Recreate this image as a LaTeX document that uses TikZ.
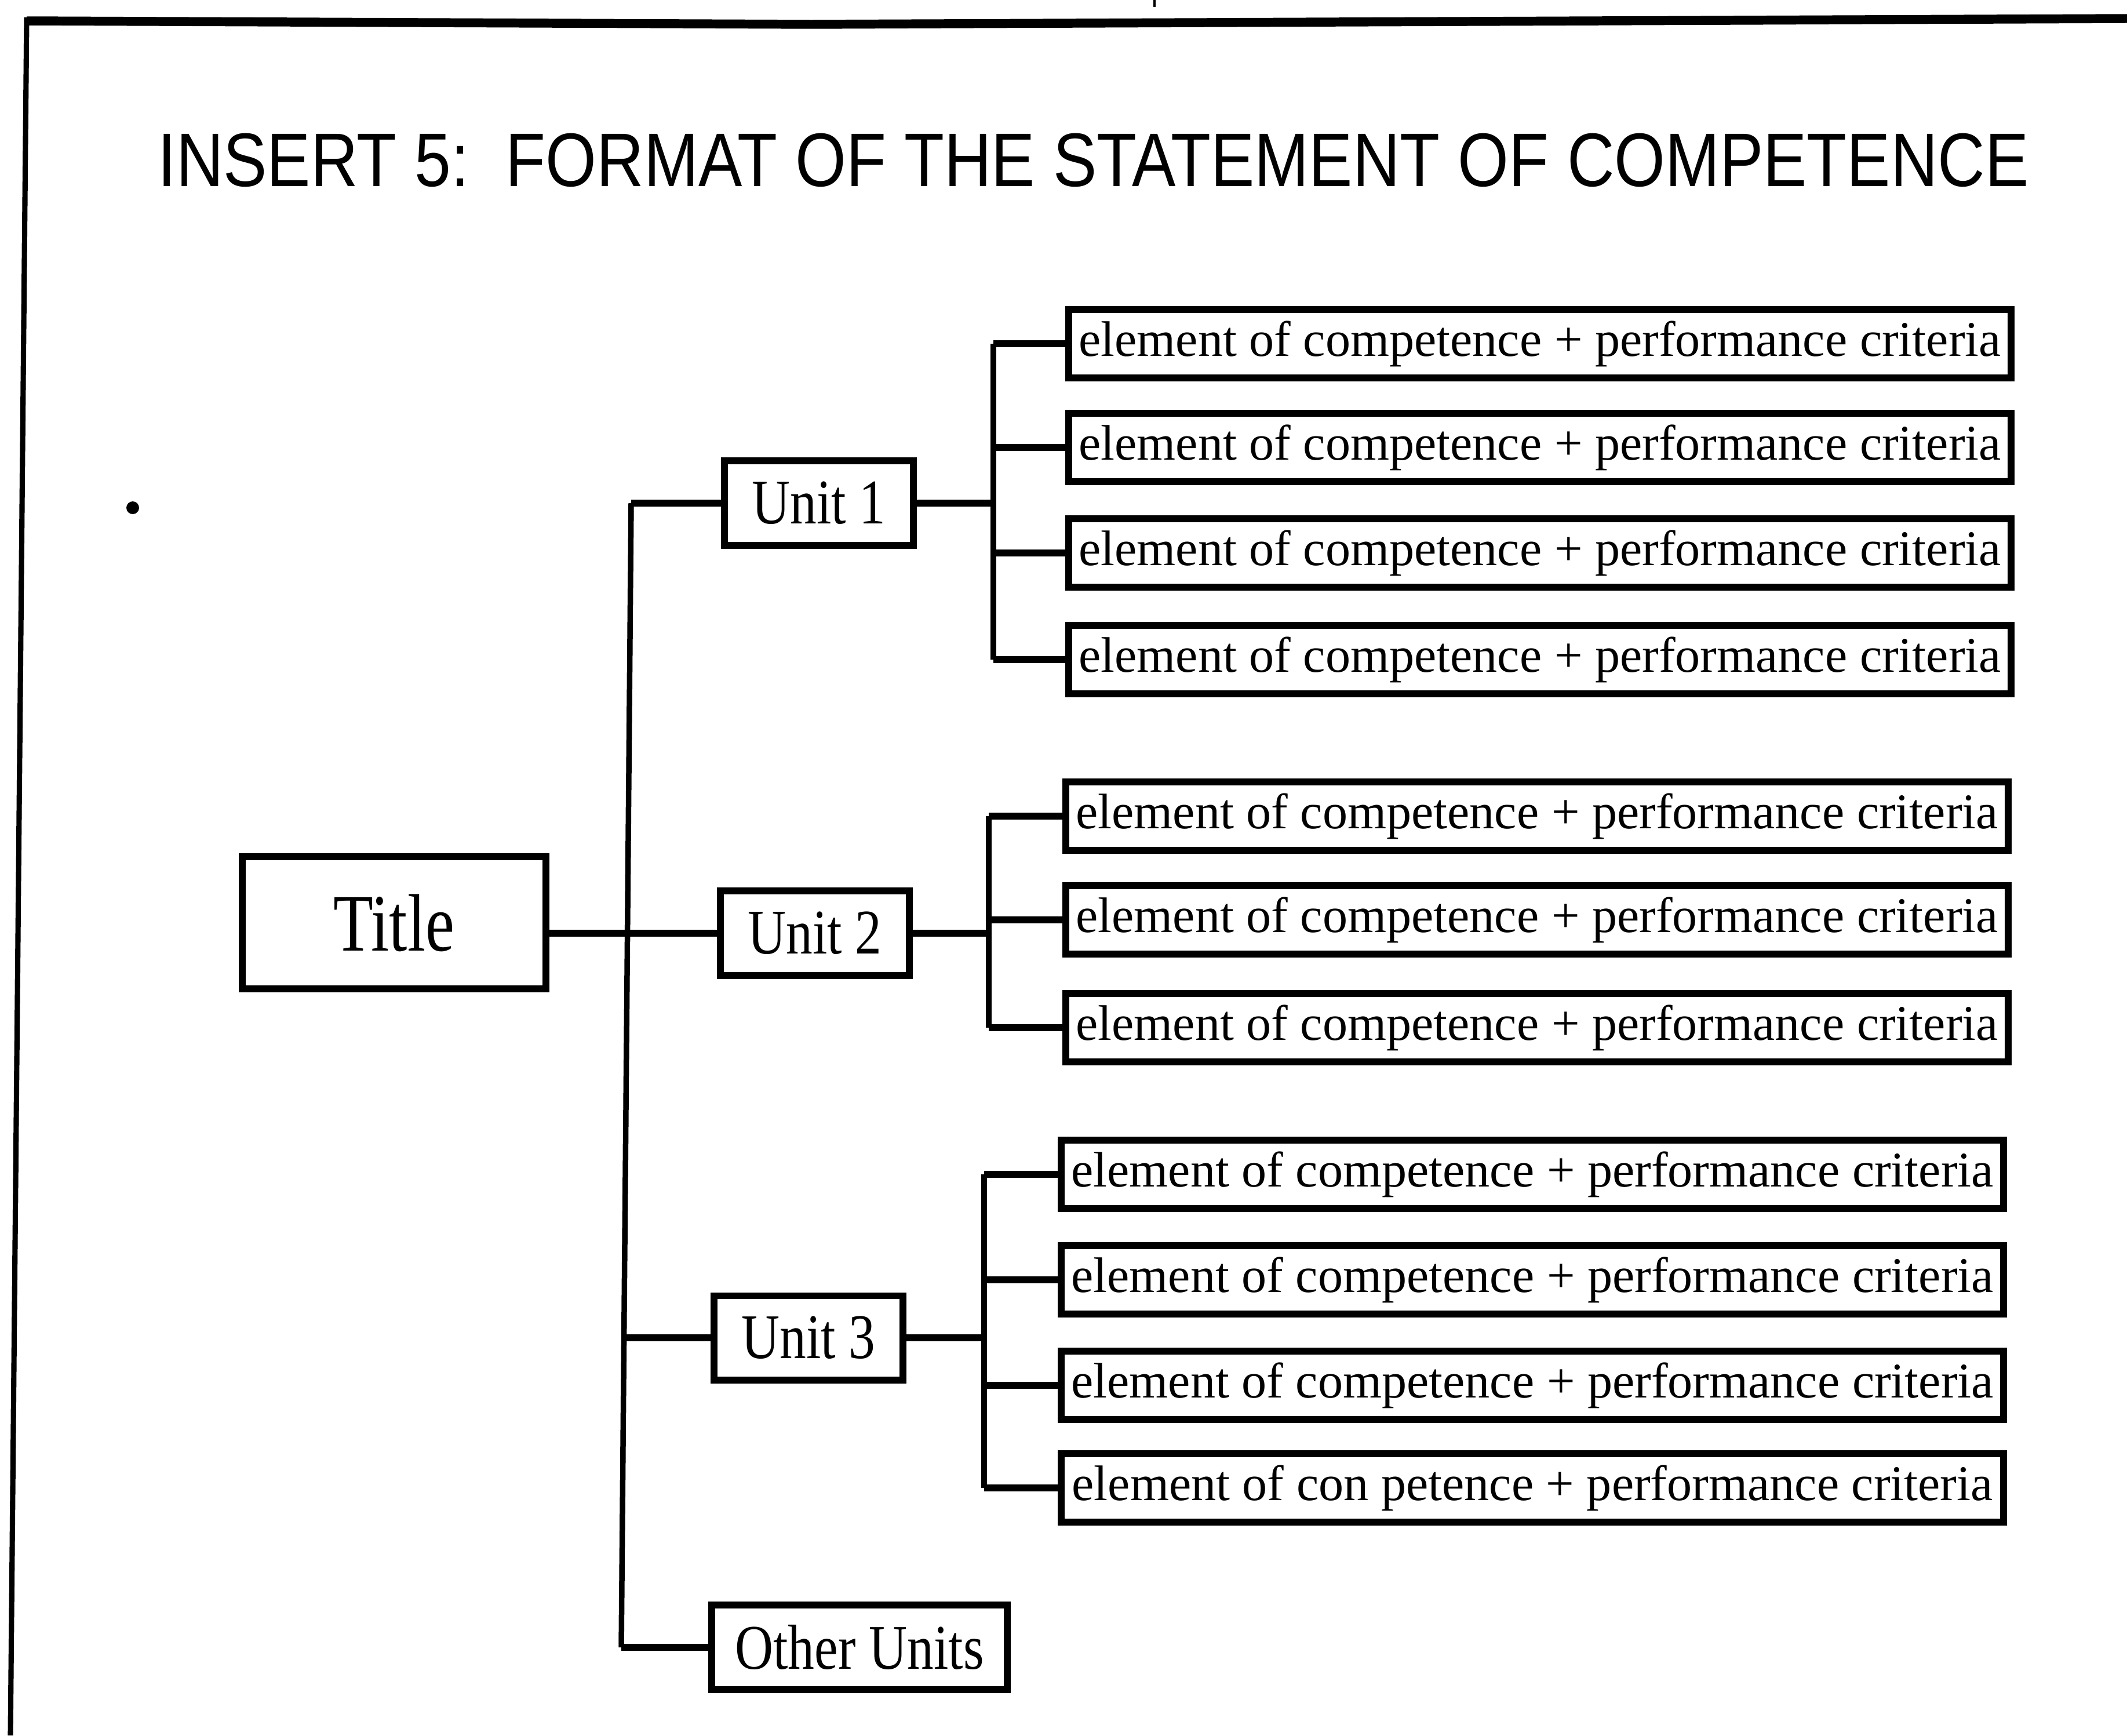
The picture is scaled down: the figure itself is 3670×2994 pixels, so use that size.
\documentclass[tikz,border=0pt]{standalone}
\usepackage{fontspec}
\usepackage{graphicx}
\setmainfont{Liberation Serif}
\newfontfamily\headfont{Liberation Sans}
\newcommand\elfont{\fontsize{24.5}{29}\selectfont}
\newcommand\unitfont{\fontsize{26}{30}\selectfont}
\newcommand\titlefont{\fontsize{32}{36}\selectfont}
\newcommand\headingfont{\headfont\fontsize{32.1}{36}\selectfont}
\newcommand\stretchy[2]{\scalebox{1}[#1]{#2}}
\tikzset{
  boxbase/.style={draw, line width=3.4pt, inner sep=0pt, align=center},
  elbox/.style={boxbase, minimum width=16.25cm, minimum height=1.18cm, font=\elfont},
  unitbox/.style={boxbase, minimum width=3.26cm, minimum height=1.45cm, font=\unitfont},
  otherbox/.style={boxbase, minimum width=5.09cm, minimum height=1.46cm, font=\unitfont},
  titlebox/.style={boxbase, minimum width=5.24cm, minimum height=2.28cm, font=\titlefont},
  conn/.style={line width=3.2pt},
  trunkline/.style={line width=2.7pt},
}
\begin{document}
\begin{tikzpicture}[x=0.01cm,y=-0.01cm]
\useasboundingbox (0,0) rectangle (3670,2994);
\fill[white] (0,0) rectangle (3670,2994);
% frame
\draw[line width=4.4pt] (46,36) -- (1400,42) -- (3670,32);
\draw[line width=2.6pt] (46,30) -- (18,2994);
\draw[line width=1.4pt] (1992,0) -- (1992,12);
\fill (229,876) circle (11);
% heading
\node[anchor=base west, inner sep=0pt, font=\headingfont] (head) at (272,321)
  {\stretchy{1.16}{INSERT 5:\ \ FORMAT OF THE STATEMENT OF COMPETENCE}};
% main nodes
\node[titlebox] (T) at (680,1592) {\stretchy{1.25}{Title}};
\node[unitbox] (U1) at (1413,868) {\stretchy{1.2}{Unit 1}};
\node[unitbox] (U2) at (1406,1610) {\stretchy{1.2}{Unit 2}};
\node[unitbox] (U3) at (1395,2308) {\stretchy{1.2}{Unit 3}};
\node[otherbox] (U4) at (1483,2842) {\stretchy{1.2}{Other Units}};
% elements group 1
\node[elbox] (E11) at (2657,593) {element of competence + performance criteria};
\node[elbox] (E12) at (2657,772) {element of competence + performance criteria};
\node[elbox] (E13) at (2657,954) {element of competence + performance criteria};
\node[elbox] (E14) at (2657,1138) {element of competence + performance criteria};
% group 2
\node[elbox] (E21) at (2652,1408) {element of competence + performance criteria};
\node[elbox] (E22) at (2652,1587) {element of competence + performance criteria};
\node[elbox] (E23) at (2652,1773) {element of competence + performance criteria};
% group 3
\node[elbox] (E31) at (2644,2026) {element of competence + performance criteria};
\node[elbox] (E32) at (2644,2208) {element of competence + performance criteria};
\node[elbox] (E33) at (2644,2390) {element of competence + performance criteria};
\node[elbox] (E34) at (2644,2567) {element of con petence + performance criteria};
% trunk
\coordinate (tr1) at (1089,868);
\coordinate (tr2) at (1085,1610);
\coordinate (tr3) at (1077,2308);
\coordinate (tr4) at (1072,2842);
\draw[trunkline] (tr1) -- (tr4);
\draw[conn] (U1.west) -- (tr1);
\draw[conn] (U3.west) -- (tr3);
\draw[conn] (U4.west) -- (tr4);
\draw[conn] (T.east |- U2.west) -- (U2.west);
% branches
\coordinate (b1) at (1714,868);
\coordinate (b2) at (1706,1610);
\coordinate (b3) at (1698,2308);
\draw[trunkline] (E11.west -| b1) -- (E14.west -| b1);
\draw[trunkline] (E21.west -| b2) -- (E23.west -| b2);
\draw[trunkline] (E31.west -| b3) -- (E34.west -| b3);
\draw[conn] (U1.east) -- (b1);
\draw[conn] (U2.east) -- (b2);
\draw[conn] (U3.east) -- (b3);
\foreach \e in {E11,E12,E13,E14} {\draw[conn] (\e.west -| b1) -- (\e.west);}
\foreach \e in {E21,E22,E23} {\draw[conn] (\e.west -| b2) -- (\e.west);}
\foreach \e in {E31,E32,E33,E34} {\draw[conn] (\e.west -| b3) -- (\e.west);}
\end{tikzpicture}
\end{document}
